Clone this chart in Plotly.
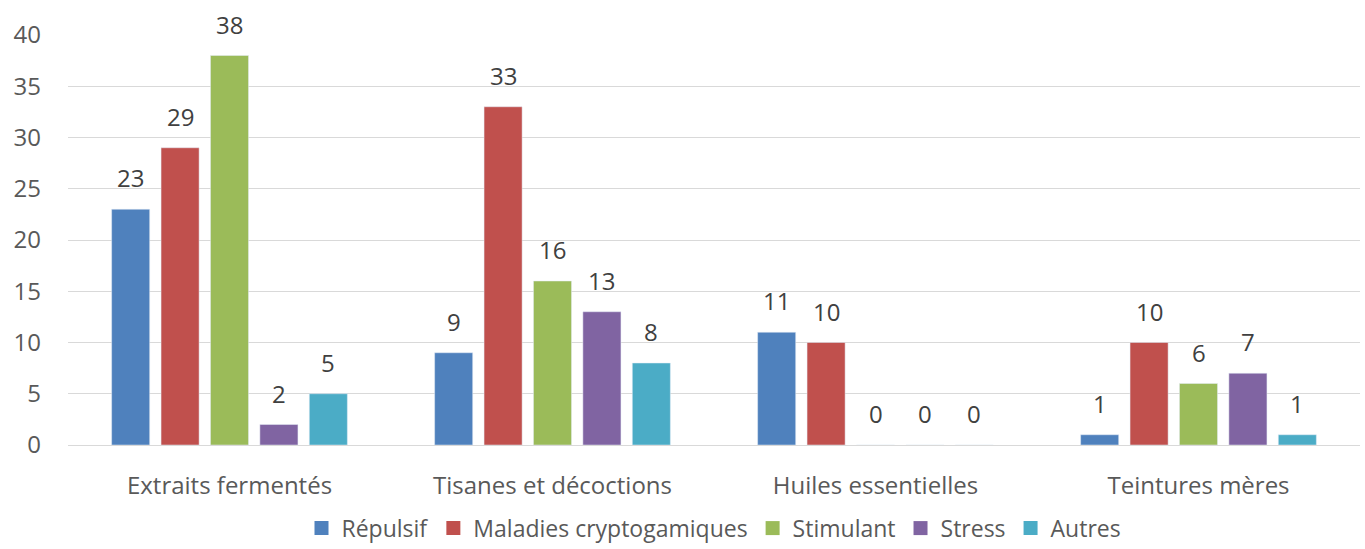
import plotly.graph_objects as go

categories = ["Extraits fermentés", "Tisanes et décoctions", "Huiles essentielles", "Teintures mères"]
series_names = ["Répulsif", "Maladies cryptogamiques", "Stimulant", "Stress", "Autres"]
repulsif = [23, 9, 11, 1]
maladies = [29, 33, 10, 10]
stimulant = [38, 16, 0, 6]
stress = [2, 13, 0, 7]
autres = [5, 8, 0, 1]
y_ticks = [0, 5, 10, 15, 20, 25, 30, 35, 40]

series_values = [repulsif, maladies, stimulant, stress, autres]
colors = ["#4F81BD", "#C0504D", "#9BBB59", "#8064A2", "#4BACC6"]

FONT = "Open Sans"
FS = 24
W, H = 1365, 549
M = dict(l=68, r=5, t=35, b=104)
BARGAP = 0.235

fig = go.Figure()
for name, vals, col in zip(series_names, series_values, colors):
    fig.add_trace(go.Bar(x=categories, y=vals, name=name, marker_color=col,
                         showlegend=False))
# legend entries with small square swatches
for name, col in zip(series_names, colors):
    fig.add_trace(go.Scatter(x=[None], y=[None], mode="markers", name=name,
                             marker=dict(symbol="square", size=14, color=col)))

# value labels above each bar
plot_w = W - M["l"] - M["r"]
cat_w = plot_w / len(categories)
slot = cat_w * (1 - BARGAP) / len(series_names)
annotations = []
for i, vals in enumerate(series_values):
    off = (i - (len(series_names) - 1) / 2) * slot
    for c, v in zip(categories, vals):
        annotations.append(dict(x=c, y=v, xref="x", yref="y", text=str(v),
                                showarrow=False, xshift=off, yshift=13,
                                yanchor="bottom",
                                font=dict(family=FONT, size=FS, color="#404040")))

fig.update_layout(
    width=W, height=H, margin=M,
    barmode="group", bargap=BARGAP, bargroupgap=0.23,
    plot_bgcolor="white", paper_bgcolor="white",
    font=dict(family=FONT, size=FS, color="#595959"),
    annotations=annotations,
    xaxis=dict(showgrid=False, showline=False, ticks="", ticklabelstandoff=24,
               tickfont=dict(size=FS, color="#595959")),
    yaxis=dict(range=[0, 40], tickvals=y_ticks, showgrid=True, gridcolor="#D9D9D9",
               gridwidth=1, zeroline=True, zerolinecolor="#D9D9D9", zerolinewidth=1,
               ticks="", tickfont=dict(size=FS, color="#595959"), ticklabelstandoff=26),
    legend=dict(orientation="h", x=0.5, xanchor="center", xref="paper",
                yref="container", y=0.038, yanchor="middle",
                font=dict(size=23, color="#595959"), itemwidth=30),
)

fig.write_html("out.html")
